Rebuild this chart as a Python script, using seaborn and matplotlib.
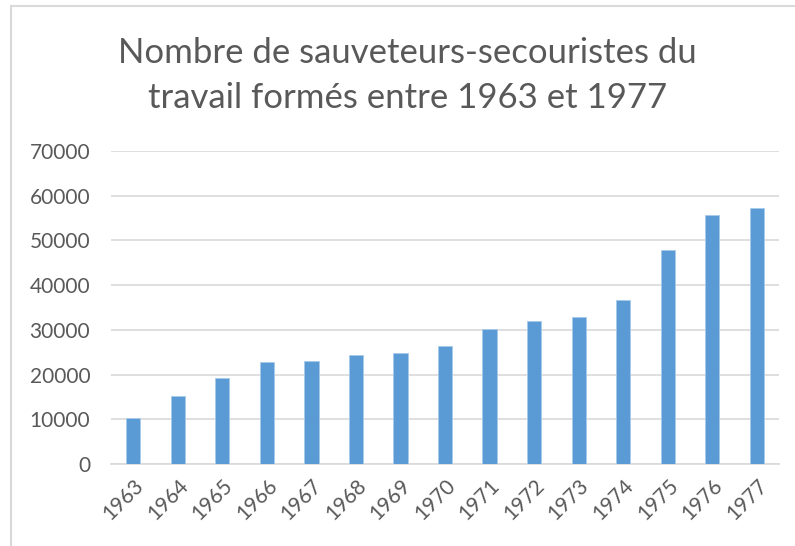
import matplotlib
matplotlib.use("Agg")
import matplotlib.pyplot as plt
import matplotlib.patches as patches
import seaborn as sns
import pandas as pd

# Data
years = [str(y) for y in range(1963, 1978)]
trained = [10200, 15300, 19300, 22800, 23100, 24300, 24900, 26500,
           30200, 32000, 32900, 36600, 47800, 55800, 57300]
y_ticks = [0, 10000, 20000, 30000, 40000, 50000, 60000, 70000]

title = "Nombre de sauveteurs-secouristes du\ntravail formés entre 1963 et 1977"

bar_color = "#5B9BD5"
text_color = "#595959"
grid_color = "#D9D9D9"

sns.set_theme(style="white")
plt.rcParams['font.family'] = ['Lato', 'DejaVu Sans']

df = pd.DataFrame({"year": years, "trained": trained})

fig = plt.figure(figsize=(7.95, 5.46), dpi=100)
ax = fig.add_axes([0.1396, 0.150, 0.8404, 0.5734])

sns.barplot(data=df, x="year", y="trained", color=bar_color, width=0.32,
            saturation=1, edgecolor="#A8CAEA", linewidth=0.6, ax=ax, zorder=3)

ax.set_ylim(0, 70000)
ax.set_yticks(y_ticks)
ax.set_yticklabels([str(t) for t in y_ticks])
ax.set_xlim(-0.5, len(years) - 0.5)
ax.yaxis.grid(True, color=grid_color, linewidth=1.2, zorder=0)
ax.set_axisbelow(True)
for s in ["top", "right", "left"]:
    ax.spines[s].set_visible(False)
ax.spines["bottom"].set_color(grid_color)
ax.spines["bottom"].set_linewidth(1.2)
ax.set_xlabel("")
ax.set_ylabel("")

ax.tick_params(axis="y", length=0, pad=15, labelsize=15, labelcolor=text_color)
ax.tick_params(axis="x", length=0, pad=8, labelsize=15, labelcolor=text_color)
for lbl in ax.get_xticklabels():
    lbl.set_rotation(45)
    lbl.set_ha("right")
    lbl.set_va("top")
    lbl.set_rotation_mode("anchor")

fig.text(0.513, 0.862, title, ha="center", va="center", fontsize=25,
         color=text_color, linespacing=1.5)

# chart border (cropped at right and bottom in the screenshot)
border = patches.Rectangle((0.0138, -0.05), 1.2, 1.039,
                           transform=fig.transFigure, fill=False,
                           edgecolor=grid_color, linewidth=1.5)
fig.patches.append(border)

fig.savefig("out.png", dpi=100)
